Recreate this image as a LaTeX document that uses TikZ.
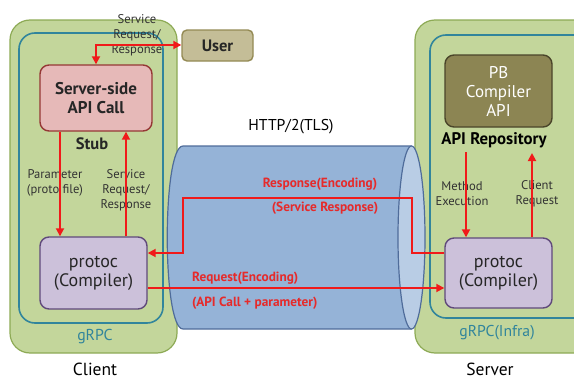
\documentclass[tikz,border=0pt]{standalone}
\usepackage{fontspec}
\setmainfont{PT Sans}
\usetikzlibrary{arrows.meta}
\definecolor{grfill}{HTML}{C3D69B}
\definecolor{grline}{HTML}{8DAA55}
\definecolor{teal}{HTML}{31859C}
\definecolor{pkfill}{HTML}{E6B9B8}
\definecolor{pkline}{HTML}{953735}
\definecolor{pufill}{HTML}{CCC1DA}
\definecolor{puline}{HTML}{604A7B}
\definecolor{usfill}{HTML}{C4BD97}
\definecolor{usline}{HTML}{948A54}
\definecolor{pbfill}{HTML}{8C8553}
\definecolor{pbline}{HTML}{4A452A}
\definecolor{cyfill}{HTML}{95B3D7}
\definecolor{cyend}{HTML}{B9CDE5}
\definecolor{cyline}{HTML}{4F6C9A}
\definecolor{arr}{HTML}{F01A1A}
\definecolor{lbl}{HTML}{E62A2A}
\tikzset{
  outer/.style={draw=grline, fill=grfill, line width=1.2pt, rounded corners=20pt},
  inner/.style={draw=teal, line width=1.6pt, rounded corners=16pt},
  box/.style={rectangle, rounded corners=9pt, line width=1.4pt, align=center, inner sep=0pt},
  small/.style={font=\fontsize{12.6}{15}\selectfont, text=black!80, align=center, inner sep=0pt},
  redtxt/.style={font=\fontsize{13.3}{15}\selectfont\bfseries, text=lbl, inner sep=0pt},
  caption/.style={font=\fontsize{17.5}{19}\selectfont, text=black, anchor=base, inner sep=0pt},
  flow/.style={draw=arr, line width=1.8pt, -{Triangle[length=8pt,width=8pt]}},
  flowb/.style={draw=arr, line width=1.8pt, {Triangle[length=8pt,width=8pt]}-{Triangle[length=8pt,width=8pt]}},
}
\begin{document}
\begin{tikzpicture}[x=1pt,y=-1pt]
\useasboundingbox (0,0) rectangle (574,380);
\clip (0,0) rectangle (574,380);
% containers
\path[outer] (10,20) rectangle (177,353);
\path[inner] (19,33) rectangle (163,323);
\path[outer] (415,20) rectangle (600,353);
\path[inner] (430,35) rectangle (590,318);
% cylinder
\path[fill=cyfill, draw=cyline, line width=1.2pt]
  (411.5,146) -- (183,146) .. controls (162,146) and (162,329) .. (183,329) -- (411.5,329);
\path[fill=cyfill] (183,147) rectangle (411.5,328);
\draw[cyline, line width=1.2pt, fill=cyend] (411.5,237.5) ellipse [x radius=13.5, y radius=91.5];
% nodes
\node[box, draw=usline, fill=usfill, minimum width=71pt, minimum height=31pt, rounded corners=5pt, font=\fontsize{16.5}{19}\selectfont\bfseries, text=black!85] (user) at (217.5,45.5) {User};
\node[box, draw=pkline, fill=pkfill, minimum width=112pt, minimum height=66pt, font=\fontsize{17}{19}\selectfont\bfseries, text=black!85] (api) at (96,98) {Server-side\\API Call};
\node[box, draw=puline, fill=pufill, minimum width=107pt, minimum height=72pt, font=\fontsize{18}{19}\selectfont, text=black!85] (lprot) at (93.5,273) {protoc\\(Compiler)};
\node[box, draw=pbline, fill=pbfill, minimum width=107pt, minimum height=72pt, font=\fontsize{17}{19}\selectfont, text=white] (pb) at (498.5,91) {PB\\Compiler\\API};
\node[box, draw=puline, fill=pufill, minimum width=107pt, minimum height=70pt, font=\fontsize{18}{19}\selectfont, text=black!85] (sprot) at (498.5,273) {protoc\\(Compiler)};
% labels
\node[small] (svc) at (137,35) {Service\\Request/\\Response};
\node[font=\fontsize{16.5}{19}\selectfont\bfseries, text=black!85] (stub) at (92,144) {Stub};
\node[small] (param) at (55,183) {Parameter\\(proto file)};
\node[small] (svc2) at (126,190.5) {Service\\Request/\\Response};
\node[font=\fontsize{15.8}{18}\selectfont, text=teal] (grpc) at (95,337) {gRPC};
\node[caption] (client) at (95,375) {Client};
\node[font=\fontsize{15.7}{18}\selectfont, text=black] (http) at (291,127) {HTTP/2(TLS)};
\node[font=\fontsize{16.8}{19}\selectfont\bfseries, text=black] (repo) at (494,140) {API Repository};
\node[small] (meth) at (462,194) {Method\\Execution};
\node[small] (creq) at (537,194) {Client\\Request};
\node[font=\fontsize{15.7}{18}\selectfont, text=teal] (grpci) at (497,333) {gRPC(Infra)};
\node[caption] (server) at (490,375) {Server};
\node[redtxt] (resp1) at (320,184) {Response(Encoding)};
\node[redtxt] (resp2) at (325,208) {(Service Response)};
\node[redtxt, anchor=west] (req1) at (192,278) {Request(Encoding)};
\node[redtxt, anchor=west] (req2) at (192,303) {(API Call + parameter)};
% connectors
\coordinate (c1) at (96,45);
\coordinate (r1) at (466,152);
\coordinate (r2) at (532,153);
\draw[flowb] (api.north -| c1) -- (c1) -- (user.west |- c1);
\draw[flow] (api.south -| 60,0) -- (lprot.north -| 60,0);
\draw[flow] (lprot.north -| 126,0) -- (api.south -| 126,0);
\draw[flow] (r1) -- (sprot.north -| r1);
\draw[flow] (sprot.north -| r2) -- (r2);
\draw[flow] (sprot.west |- 0,253) -| (412,198) -| (183,253) -- (lprot.east |- 0,253);
\draw[flow] (lprot.east |- 0,288) -- (sprot.west |- 0,288);
\end{tikzpicture}
\end{document}
